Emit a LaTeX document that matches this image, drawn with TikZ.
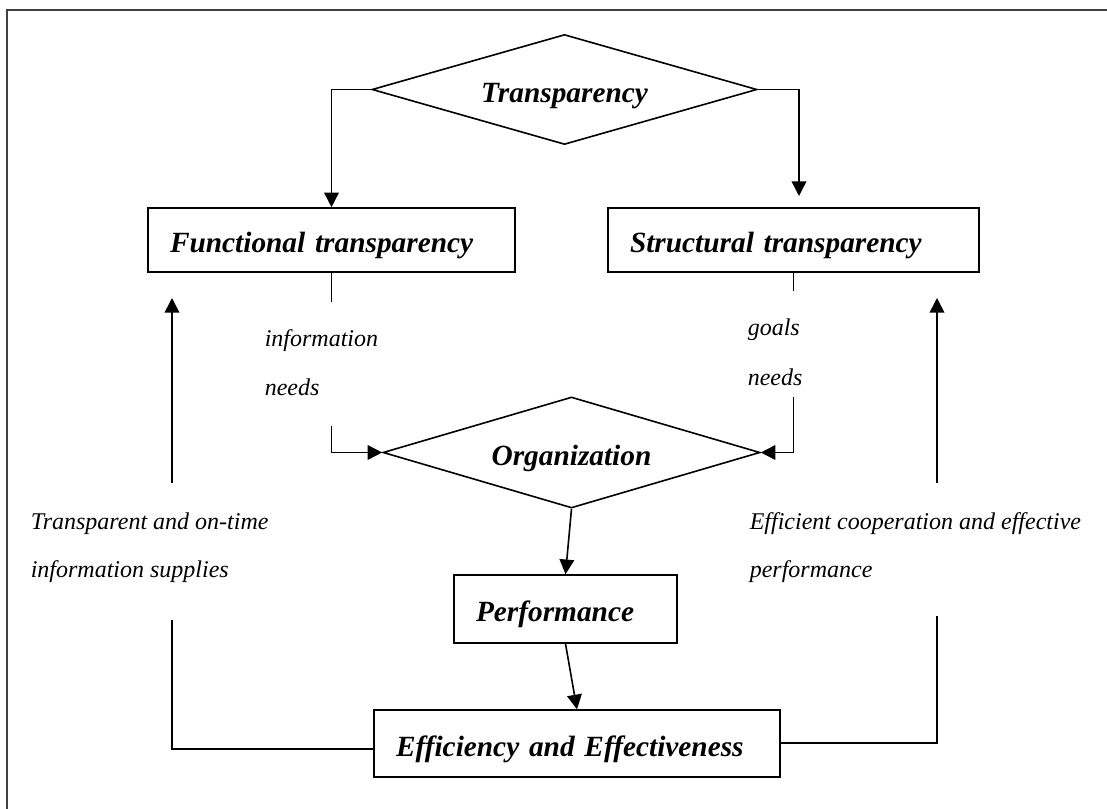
\documentclass[tikz,border=0pt]{standalone}
\usepackage{fontspec}
\setmainfont{Liberation Serif}
\usetikzlibrary{arrows.meta,shapes.geometric}
\begin{document}
\begin{tikzpicture}[x=0.75pt,y=-0.75pt,
  line width=1.2pt,
  >={Triangle[length=11pt,width=11pt]},
  boxnode/.style={draw, rectangle, inner ysep=0pt, inner xsep=16.5pt, align=left,
    text height=21pt, text depth=2pt,
    font=\fontsize{22}{26}\selectfont\bfseries\itshape},
  decision/.style={draw, diamond, aspect=3.5, inner sep=0pt,
    text height=21pt, text depth=2pt,
    font=\fontsize{22}{26}\selectfont\bfseries\itshape},
  note/.style={font=\fontsize{18}{36}\selectfont\itshape, inner sep=0pt,
    anchor=base west, align=left}
]
% page area and outer frame
\useasboundingbox (0,0) rectangle (1107,809);
\clip (0,0) rectangle (1107,809);
\draw[black!75, line width=1.4pt] (7,10) rectangle (1140,840);

% decisions
\node[decision, minimum width=288.75pt, minimum height=82.5pt] (T) at (564.5,89.5) {Transparency};
\node[decision, minimum width=282.75pt, minimum height=83.25pt] (O) at (571.5,452.5) {Organization};

% boxes
\node[boxnode, text width=242.25pt, minimum height=48pt] (F) at (331.5,240) {Functional transparency};
\node[boxnode, text width=245.25pt, minimum height=48pt] (S) at (793.5,240) {Structural transparency};
\node[boxnode, text width=134.25pt, minimum height=51pt] (P) at (565.5,609) {Performance};
\node[boxnode, text width=271.5pt, minimum height=50pt] (E) at (577,743.5) {Efficiency and Effectiveness};

% labels (anchored at the baseline of their last line)
\node[note] (infoneeds) at (264,395) {information\\needs};
\node[note, font=\fontsize{18}{37.5}\selectfont\itshape] (goalneeds) at (747,386) {goals\\needs};
\node[note] (supply) at (30,577) {Transparent and on-time\\information supplies};
\node[note] (coop) at (749,577) {Efficient cooperation and effective\\performance};

% top split
\coordinate (sArr) at (799,196);
\draw[->] (T.west) -| (F.north);
\draw[->] (T.east) -| (sArr);

% inputs to the organization
\coordinate (fa) at (331.5,302);
\coordinate (fb) at (331.5,426);
\draw (F.south) -- (fa);
\draw[->] (fb) |- (O.west);
\coordinate (sa) at (793.5,291);
\coordinate (sb) at (793.5,397);
\draw (S.south) -- (sa);
\draw[->] (sb) |- (O.east);

% main flow
\draw[->] (O.south) -- (P.north);
\draw[->] (P.south) -- (E.north);

% feedback loops
\coordinate (la) at (172,749);
\coordinate (lb) at (172,620);
\coordinate (lc) at (172,483);
\coordinate (ld) at (172,298);
\draw (E.west |- la) -- (la) -- (lb);
\draw[->] (lc) -- (ld);
\coordinate (ra) at (937,743);
\coordinate (rb) at (937,616);
\coordinate (rc) at (937,483);
\coordinate (rd) at (937,298);
\draw (E.east |- ra) -- (ra) -- (rb);
\draw[->] (rc) -- (rd);
\end{tikzpicture}
\end{document}
